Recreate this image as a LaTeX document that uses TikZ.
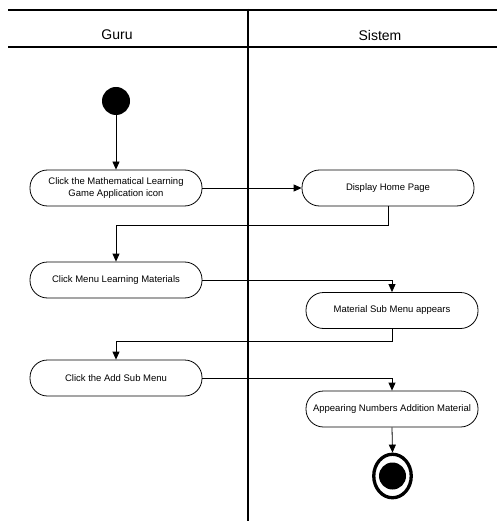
\documentclass[tikz,border=0pt]{standalone}
\usepackage{fontspec}
\setmainfont{Liberation Sans}
\usetikzlibrary{arrows.meta,shapes.geometric}
\begin{document}
\begin{tikzpicture}[x=1pt,y=-1pt,
  actbox/.style={draw=black,line width=0.8pt,rectangle,rounded corners=17.5pt,
    minimum width=172pt,minimum height=36pt,inner sep=0pt,align=center,
    font=\fontsize{9.5pt}{11.7pt}\selectfont},
  flow/.style={draw=black,line width=0.8pt,-{Triangle[length=8pt,width=7pt]}},
  lane/.style={draw=black,line width=1.3pt},
  head/.style={font=\fontsize{14pt}{16pt}\selectfont}]
\useasboundingbox (0,0) rectangle (497,521);
% swimlanes
\coordinate (hl1) at (8,10);
\coordinate (hr1) at (497,10);
\coordinate (hl2) at (8,47);
\coordinate (hr2) at (497,47);
\coordinate (vt) at (248,9);
\coordinate (vb) at (248,521);
\draw[lane] (hl1) -- (hr1);
\draw[lane] (hl2) -- (hr2);
\draw[lane,line width=2.3pt] (vt) -- (vb);
\node[head] (guru) at (117,35) {Guru};
\node[head] (sistem) at (380,35) {Sistem};
% nodes
\node[ellipse,fill=black,minimum width=28pt,minimum height=28pt,inner sep=0pt] (start) at (116,101) {};
\node[actbox] (a1) at (116,188) {Click the Mathematical Learning\\Game Application icon};
\node[actbox] (s1) at (388,188) {Display Home Page};
\node[actbox] (a2) at (116,280) {Click Menu Learning Materials};
\node[actbox] (s2) at (392,310.5) {Material Sub Menu appears};
\node[actbox] (a3) at (116,378) {Click the Add Sub Menu};
\node[actbox] (s3) at (392,409) {Appearing Numbers Addition Material};
\node[ellipse,draw=black,line width=3.3pt,minimum width=37.5pt,minimum height=43.5pt,inner sep=0pt] (end) at (392.5,476) {};
\node[ellipse,fill=black,minimum width=27pt,minimum height=27pt,inner sep=0pt] (endin) at (392.5,476) {};
% connectors
\coordinate (y1) at (0,225);
\coordinate (y2) at (0,341);
\draw[flow] (start) -- (a1);
\draw[flow] (a1.east) -- (s1.west);
\draw[flow] (s1.south) -- (s1.south |- y1) -| (a2.north);
\draw[flow] (a2.east) -| (s2.north);
\draw[flow] (s2.south) -- (s2.south |- y2) -| (a3.north);
\draw[flow] (a3.east) -| (s3.north);
\draw[flow] (s3.south) -- (end.north);
\end{tikzpicture}
\end{document}
